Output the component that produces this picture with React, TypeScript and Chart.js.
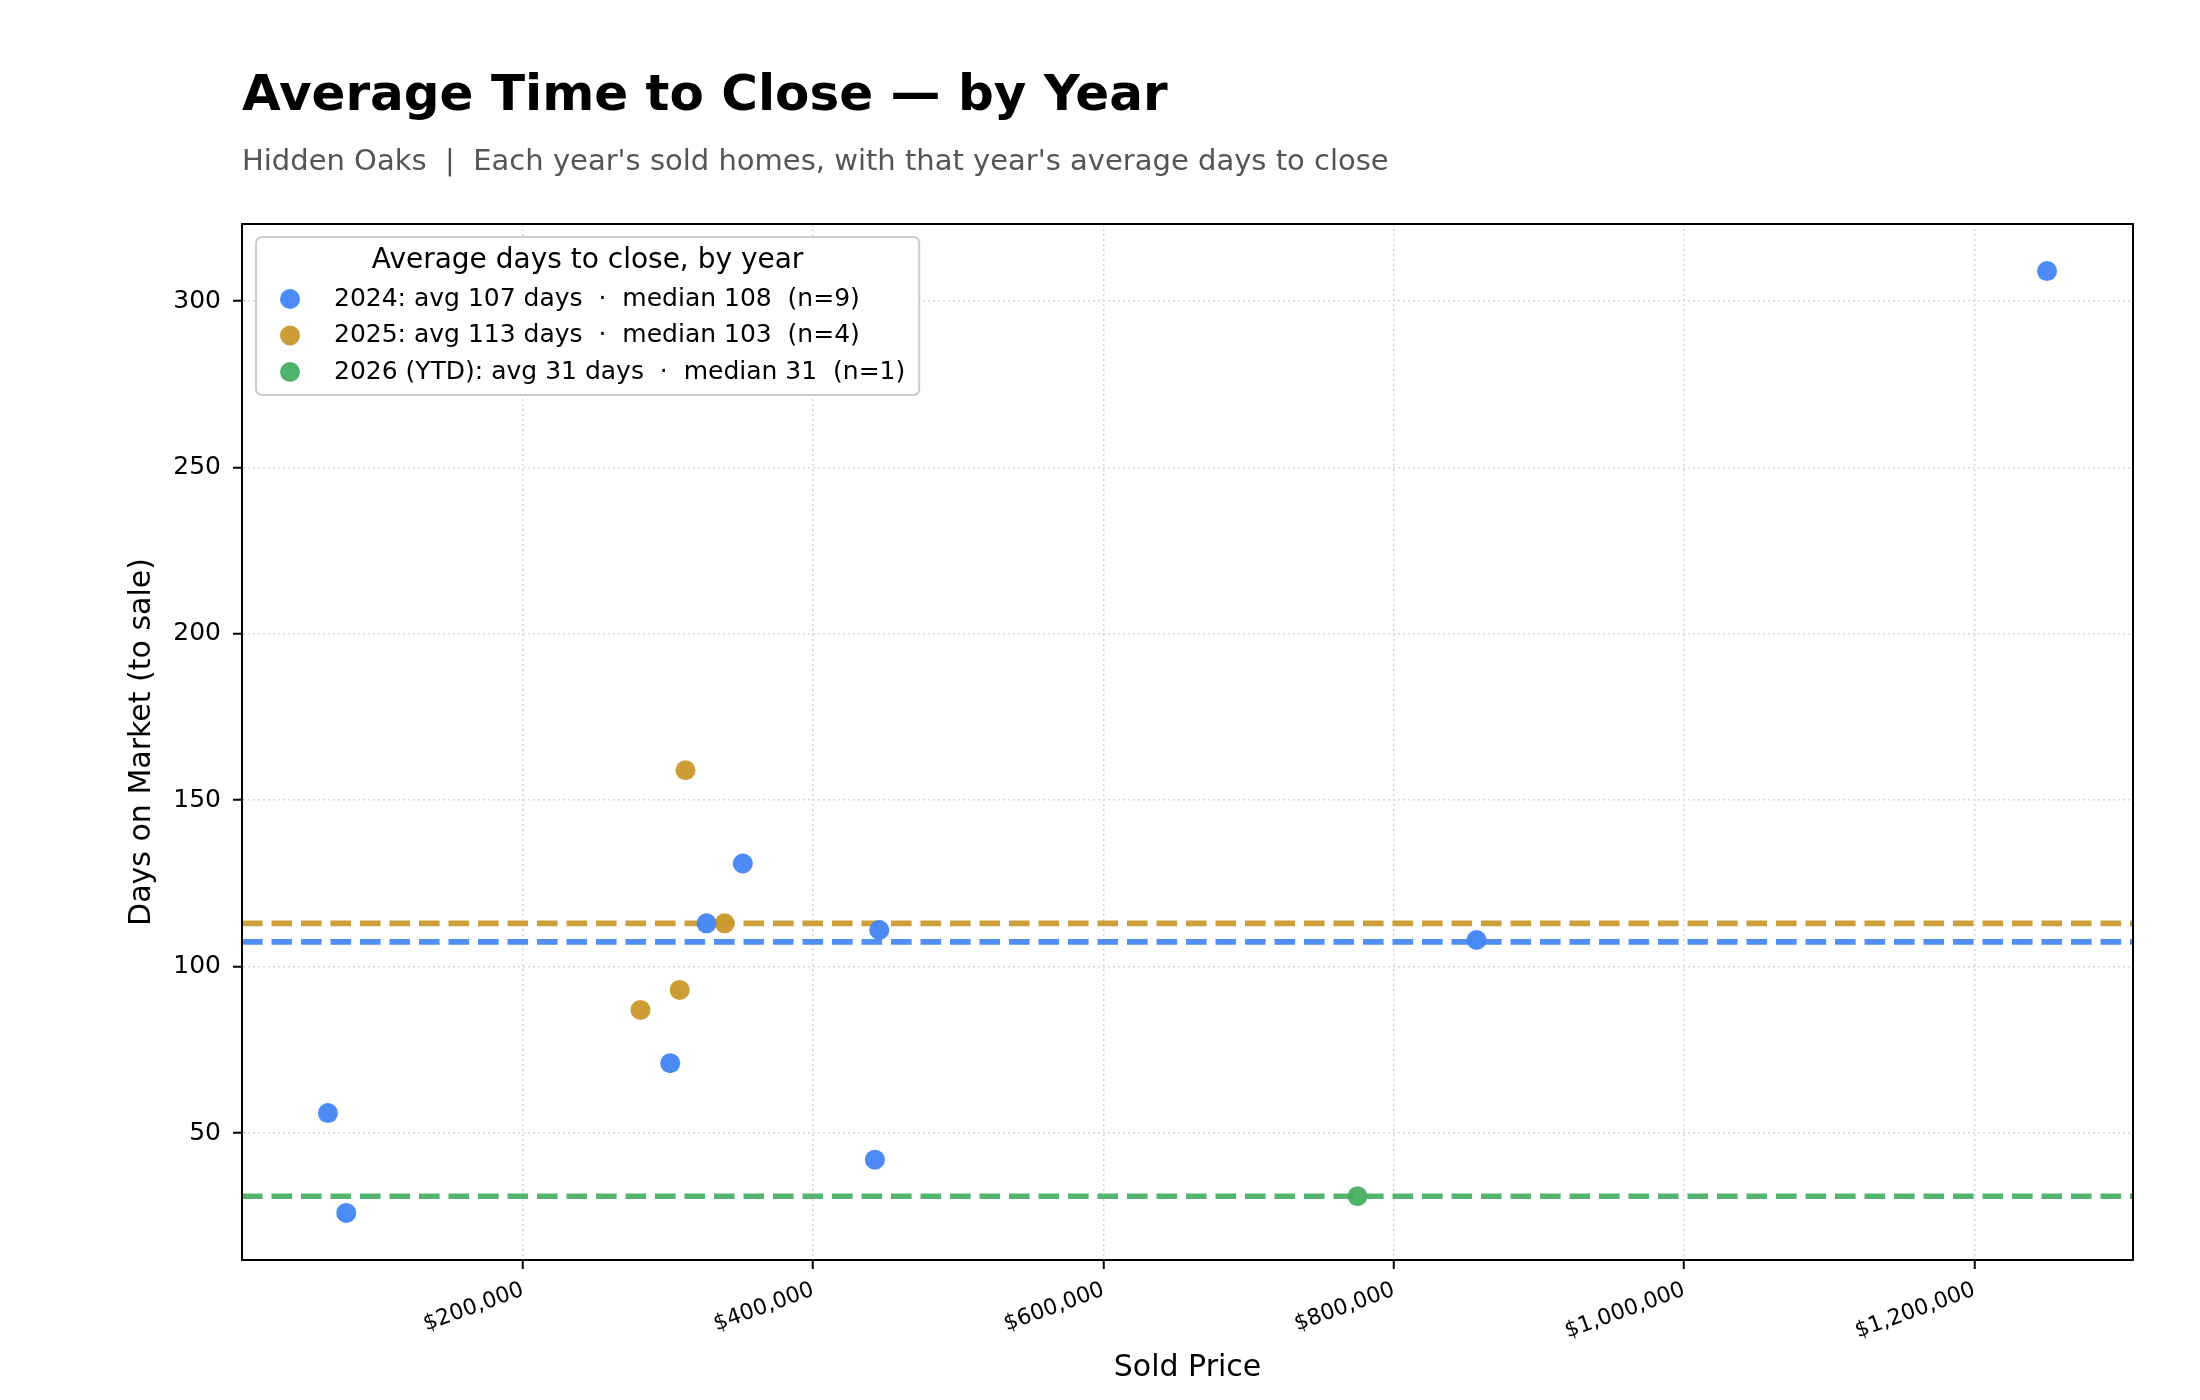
import { useEffect, useRef } from 'react';
import { Chart, registerables } from 'chart.js';

Chart.register(...registerables);

const yearLabels = ['2024', '2025', '2026 (YTD)'];
const prices2024 = [1250000, 65700, 78300, 301500, 326500, 351500, 445500, 442500, 857000];
const days2024 = [309, 56, 26, 71, 113, 131, 111, 42, 108];
const prices2025 = [312000, 339000, 281000, 308000];
const days2025 = [159, 113, 87, 93];
const prices2026 = [775000];
const days2026 = [31];
const xTickValues = [200000, 400000, 600000, 800000, 1000000, 1200000];
const yTickValues = [50, 100, 150, 200, 250, 300];
const pointColors = ['rgba(66,133,244,0.95)', 'rgba(201,152,42,0.95)', 'rgba(70,175,100,0.95)'];
const lineColors = ['rgba(66,133,244,0.92)', 'rgba(201,152,42,0.92)', 'rgba(70,175,100,0.92)'];

const TITLE = 'Average Time to Close — by Year';
const SUBTITLE = "Hidden Oaks  |  Each year's sold homes, with that year's average days to close";
const LEGEND_TITLE = 'Average days to close, by year';
const FONT = "'DejaVu Sans', sans-serif";

const mean = (a: number[]) => a.reduce((s, v) => s + v, 0) / a.length;
const median = (a: number[]) => {
  const s = [...a].sort((p, q) => p - q);
  const m = Math.floor(s.length / 2);
  return s.length % 2 ? s[m] : (s[m - 1] + s[m]) / 2;
};
const money = (v: number) => '$' + v.toLocaleString('en-US');

const series = [
  { label: yearLabels[0], x: prices2024, y: days2024 },
  { label: yearLabels[1], x: prices2025, y: days2025 },
  { label: yearLabels[2], x: prices2026, y: days2026 },
];

const allX = series.flatMap((s) => s.x);
const allY = series.flatMap((s) => s.y);
const pad = (lo: number, hi: number) => [lo - (hi - lo) * 0.05, hi + (hi - lo) * 0.05];
const [xMin, xMax] = pad(Math.min(...allX), Math.max(...allX));
const [yMin, yMax] = pad(Math.min(...allY), Math.max(...allY));

const legendText = series.map(
  (s) => `${s.label}: avg ${Math.round(mean(s.y))} days  ·  median ${Math.round(median(s.y))}  (n=${s.y.length})`
);

const decorPlugin = {
  id: 'decor',
  afterDraw(chart: Chart) {
    const { ctx, chartArea } = chart;
    const { left, top, right, bottom } = chartArea;
    ctx.save();

    // frame around the plot
    ctx.strokeStyle = '#000';
    ctx.lineWidth = 2;
    ctx.strokeRect(left, top, right - left, bottom - top);

    // title + subtitle
    ctx.textAlign = 'left';
    ctx.textBaseline = 'alphabetic';
    ctx.fillStyle = '#000';
    ctx.font = `bold 50px ${FONT}`;
    ctx.fillText(TITLE, left, 110);
    ctx.fillStyle = '#555';
    ctx.font = `29px ${FONT}`;
    ctx.fillText(SUBTITLE, left, 170);

    // legend box
    ctx.font = `25px ${FONT}`;
    const maxW = Math.max(...legendText.map((t) => ctx.measureText(t).width));
    const bx = left + 14;
    const by = top + 13;
    const bw = 78 + maxW + 14;
    const bh = 158;
    ctx.beginPath();
    ctx.roundRect(bx, by, bw, bh, 6);
    ctx.fillStyle = 'rgba(255,255,255,0.85)';
    ctx.fill();
    ctx.strokeStyle = '#cccccc';
    ctx.lineWidth = 2;
    ctx.stroke();

    ctx.fillStyle = '#000';
    ctx.font = `28px ${FONT}`;
    ctx.textAlign = 'center';
    ctx.textBaseline = 'middle';
    ctx.fillText(LEGEND_TITLE, bx + bw / 2, by + 24);

    ctx.font = `25px ${FONT}`;
    ctx.textAlign = 'left';
    legendText.forEach((t, i) => {
      const cy = by + 62 + i * 36.5;
      ctx.beginPath();
      ctx.arc(bx + 34, cy, 10, 0, Math.PI * 2);
      ctx.fillStyle = pointColors[i];
      ctx.fill();
      ctx.fillStyle = '#000';
      ctx.fillText(t, bx + 78, cy);
    });
    ctx.restore();
  },
};

export default function App() {
  const canvasRef = useRef<HTMLCanvasElement>(null);

  useEffect(() => {
    if (!canvasRef.current) return;

    const pointSets = series.map((s, i) => ({
      label: s.label,
      data: s.x.map((x, j) => ({ x, y: s.y[j] })),
      backgroundColor: pointColors[i],
      borderWidth: 0,
      pointRadius: 10,
      order: 1,
    }));

    const avgSets = series.map((s, i) => ({
      label: s.label + ' avg',
      data: [
        { x: xMin, y: mean(s.y) },
        { x: xMax, y: mean(s.y) },
      ],
      showLine: true,
      borderColor: lineColors[i],
      borderWidth: 5.6,
      borderDash: [20.6, 8.9],
      pointRadius: 0,
      order: 2,
    }));

    const chart = new Chart(canvasRef.current, {
      type: 'scatter',
      data: { datasets: [...avgSets, ...pointSets] },
      plugins: [decorPlugin],
      options: {
        animation: false,
        responsive: false,
        devicePixelRatio: 1,
        layout: { padding: { top: 224, right: 67, left: 0, bottom: 0 } },
        plugins: { legend: { display: false }, tooltip: { enabled: false } },
        scales: {
          x: {
            type: 'linear',
            min: xMin,
            max: xMax,
            afterBuildTicks: (scale: any) => {
              scale.ticks = xTickValues.map((value) => ({ value }));
            },
            afterFit: (scale: any) => {
              scale.height = 140;
            },
            ticks: {
              callback: (v: any) => money(Number(v)),
              minRotation: 20,
              maxRotation: 20,
              autoSkip: false,
              padding: 8,
              color: '#000',
              font: { family: FONT, size: 22 },
            },
            grid: { color: '#d6d6d6', lineWidth: 1.5, tickColor: '#000', tickWidth: 2, tickLength: 9 },
            border: { display: true, color: '#000', width: 2, dash: [2, 3] },
            title: {
              display: true,
              text: 'Sold Price',
              color: '#000',
              font: { family: FONT, size: 30 },
              padding: { top: 0, bottom: 14 },
            },
          },
          y: {
            type: 'linear',
            min: yMin,
            max: yMax,
            afterBuildTicks: (scale: any) => {
              scale.ticks = yTickValues.map((value) => ({ value }));
            },
            afterFit: (scale: any) => {
              scale.width = 242;
            },
            ticks: {
              padding: 12,
              color: '#000',
              font: { family: FONT, size: 25 },
            },
            grid: { color: '#d6d6d6', lineWidth: 1.5, tickColor: '#000', tickWidth: 2, tickLength: 9 },
            border: { display: true, color: '#000', width: 2, dash: [2, 3] },
            title: {
              display: true,
              text: 'Days on Market (to sale)',
              color: '#000',
              font: { family: FONT, size: 30 },
              padding: { top: 124, bottom: 0 },
            },
          },
        },
      },
    });

    return () => {
      chart.destroy();
    };
  }, []);

  return (
    <div style={{ position: 'absolute', left: 0, top: 0, width: 2200, height: 1400, background: '#fff' }}>
      <canvas ref={canvasRef} width={2200} height={1400} />
    </div>
  );
}
